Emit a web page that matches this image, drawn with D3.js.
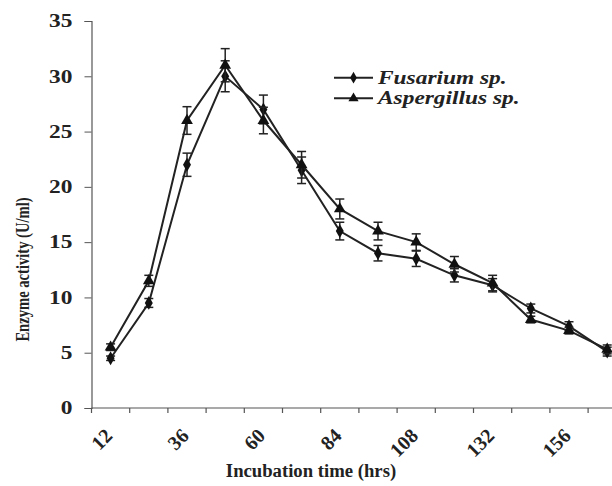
<!DOCTYPE html>
<html>
<head>
<meta charset="utf-8">
<style>
  body { margin: 0; background: #fff; }
  svg { display: block; }
  text { font-family: "Liberation Serif", "Times New Roman", serif; font-weight: bold; fill: #222; }
</style>
</head>
<body>
<div id="chart-area"></div>
<script src="https://cdn.jsdelivr.net/npm/d3@7"></script>
<script>
// incubation time categories (hrs)
var hours = [12, 24, 36, 48, 60, 72, 84, 96, 108, 120, 132, 144, 156, 168];
var labelHours = [12, 36, 60, 84, 108, 132, 156];
var yTicks = [0, 5, 10, 15, 20, 25, 30, 35];

var fusarium    = [4.5, 9.5, 22, 30, 27, 21.5, 16, 14, 13.5, 12, 11.1, 9, 7.4, 5.1];
var fusariumErr = [0.2, 0.4, 1.05, 1.4, 1.3, 1.2, 0.8, 0.7, 0.7, 0.6, 0.6, 0.4, 0.4, 0.4];
var asper       = [5.5, 11.5, 26, 31, 26, 22, 18, 16, 15, 13, 11.3, 8, 7, 5.3];
var asperErr    = [0.3, 0.5, 1.25, 1.5, 1.2, 1.2, 0.9, 0.8, 0.75, 0.7, 0.7, 0.3, 0.3, 0.4];

const width = 612, height = 486;
const plotLeft = 91.5, plotTop = 21, plotBottom = 408;
const step = 38.2;
const stretch = 1.3;   // the original print is a bit wide

const svg = d3.select("#chart-area").append("svg")
    .attr("width", width).attr("height", height);

const x = d3.scaleBand()
    .domain(hours)
    .range([plotLeft, plotLeft + step * hours.length])
    .padding(0);
const cx = h => x(h) + x.bandwidth() / 2;

const y = d3.scaleLinear().domain([0, 35]).range([plotBottom, plotTop]);

// y axis
const yAxis = svg.append("g")
    .attr("transform", `translate(${plotLeft},0)`)
    .call(d3.axisLeft(y).tickValues(yTicks).tickSize(7).tickPadding(12));
yAxis.select(".domain").attr("stroke", "#555").attr("stroke-width", 1.2);
yAxis.selectAll(".tick line").attr("stroke", "#555");
yAxis.selectAll("text")
    .attr("x", 0)
    .attr("transform", `translate(-19,0) scale(${stretch},1)`)
    .style("font-size", "18px").attr("fill", "#222");

// x axis line + boundary ticks
svg.append("line")
    .attr("x1", plotLeft).attr("x2", width)
    .attr("y1", plotBottom).attr("y2", plotBottom)
    .attr("stroke", "#555").attr("stroke-width", 1.2);
svg.selectAll(".xtick").data(hours.concat(["end"]))
  .enter().append("line")
    .attr("class", "xtick")
    .attr("x1", (d, i) => i < hours.length ? x(d) : x(hours[hours.length - 1]) + x.bandwidth())
    .attr("x2", (d, i) => i < hours.length ? x(d) : x(hours[hours.length - 1]) + x.bandwidth())
    .attr("y1", plotBottom).attr("y2", plotBottom + 5)
    .attr("stroke", "#555").attr("stroke-width", 1.2);

svg.selectAll(".xlabel").data(labelHours)
  .enter().append("text")
    .attr("class", "xlabel")
    .attr("text-anchor", "end")
    .attr("transform", d => `translate(${cx(d) + 3},${plotBottom + 29}) rotate(-45)`)
    .style("font-size", "20px")
    .text(d => d);

// titles
svg.append("text")
    .attr("x", 311).attr("y", 477)
    .attr("text-anchor", "middle")
    .style("font-size", "18.7px")
    .text("Incubation time (hrs)");
svg.append("text")
    .attr("transform", `translate(29,269.5) scale(${stretch},1) rotate(-90)`)
    .attr("text-anchor", "middle")
    .style("font-size", "14.6px")
    .text("Enzyme activity (U/ml)");

const line = d3.line().x((d, i) => cx(hours[i])).y(d => y(d));

function drawSeries(vals, errs, shape, size) {
    const g = svg.append("g");
    // error bars
    const eb = g.selectAll(".eb").data(vals).enter().append("g");
    eb.append("line")
        .attr("x1", (d, i) => cx(hours[i])).attr("x2", (d, i) => cx(hours[i]))
        .attr("y1", (d, i) => y(d - errs[i])).attr("y2", (d, i) => y(d + errs[i]))
        .attr("stroke", "#222").attr("stroke-width", 1.5);
    [-1, 1].forEach(function(s) {
        eb.append("line")
            .attr("x1", (d, i) => cx(hours[i]) - 4.5).attr("x2", (d, i) => cx(hours[i]) + 4.5)
            .attr("y1", (d, i) => y(d + s * errs[i])).attr("y2", (d, i) => y(d + s * errs[i]))
            .attr("stroke", "#222").attr("stroke-width", 1.5);
    });
    g.append("path")
        .attr("d", line(vals))
        .attr("fill", "none").attr("stroke", "#222").attr("stroke-width", 2);
    g.selectAll(".m").data(vals).enter().append("path")
        .attr("d", d3.symbol().type(shape).size(size))
        .attr("transform", (d, i) => `translate(${cx(hours[i])},${y(d)})`)
        .attr("fill", "#111");
}

drawSeries(fusarium, fusariumErr, d3.symbolDiamond, 55);
drawSeries(asper, asperErr, d3.symbolTriangle, 60);

// legend
const legend = [
    {name: "Fusarium sp.", shape: d3.symbolDiamond, size: 40, y: 77.7},
    {name: "Aspergillus sp.", shape: d3.symbolTriangle, size: 45, y: 98.3}
];
const lg = svg.selectAll(".lg").data(legend).enter().append("g")
    .attr("transform", d => `translate(334,${d.y})`);
lg.append("line").attr("x1", 0).attr("x2", 39)
    .attr("stroke", "#222").attr("stroke-width", 2);
lg.append("path")
    .attr("d", d => d3.symbol().type(d.shape).size(d.size)())
    .attr("transform", "translate(19.5,0)").attr("fill", "#111");
lg.append("text")
    .attr("transform", `translate(44,5.8) scale(${stretch},1)`)
    .style("font-size", "18px").style("font-style", "italic")
    .text(d => d.name);
</script>
</body>
</html>
